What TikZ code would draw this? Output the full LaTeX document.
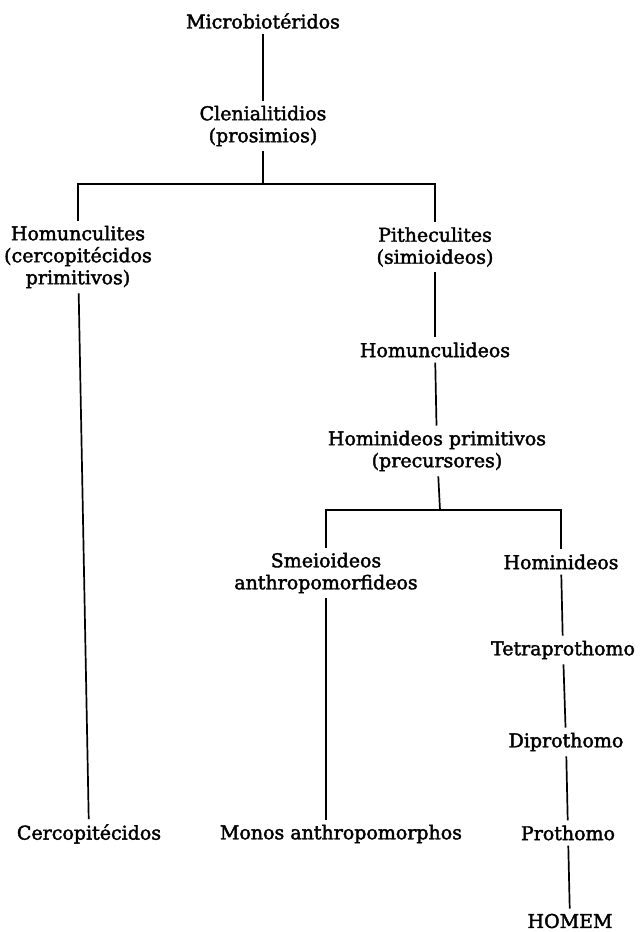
\documentclass[tikz,border=0pt]{standalone}
\usepackage{fontspec}
\setmainfont{DejaVu Serif}[FakeBold=2]
\usetikzlibrary{positioning}

\begin{document}
\begin{tikzpicture}[x=1pt,y=-1pt,
    every node/.style={font=\fontsize{19}{22}\selectfont, align=center, inner sep=5pt},
    link/.style={line width=1.7pt}]
    \useasboundingbox (0,0) rectangle (641,932);

    % tronco
    \node (micro) at (263,21) {Microbiotéridos};
    \node (clen) at (263,126) {Clenialitidios\\(prosimios)};
    \coordinate (fork1) at (263,184);

    % ramo esquerdo
    \node (homun) at (78,257) {Homunculites\\(cercopitécidos\\primitivos)};
    \node (cerco) at (89,834) {Cercopitécidos};

    % ramo direito
    \node (pith) at (435,247) {Pitheculites\\(simioideos)};
    \node (homid) at (435,350) {Homunculideos};
    \node (hprim) at (437,451) {Hominideos primitivos\\(precursores)};
    \coordinate (fork2) at (440,510);

    \node (smei) at (326,573) {Smeioideos\\anthropomorfideos};
    \node (monos) at (341,834) {Monos anthropomorphos};

    \node (homin) at (561,562) {Hominideos};
    \node (tetra) at (563,650) {Tetraprothomo};
    \node (dipro) at (566,742) {Diprothomo};
    \node (proth) at (568,833) {Prothomo};
    \node (homem) at (570,921) {HOMEM};

    \draw[link] (micro) -- (clen);
    \draw[link] (clen) -- (fork1);
    \draw[link] (homun) |- (fork1) -| (pith);
    \draw[link] (homun) -- (cerco);
    \draw[link] (pith) -- (homid);
    \draw[link] (homid) -- (hprim);
    \draw[link] (hprim) -- (fork2);
    \draw[link] (smei) |- (fork2) -| (homin);
    \draw[link] (smei.south) -- (smei.south |- monos.north);
    \draw[link] (homin) -- (tetra);
    \draw[link] (tetra) -- (dipro);
    \draw[link] (dipro) -- (proth);
    \draw[link] (proth) -- (homem);
\end{tikzpicture}
\end{document}
